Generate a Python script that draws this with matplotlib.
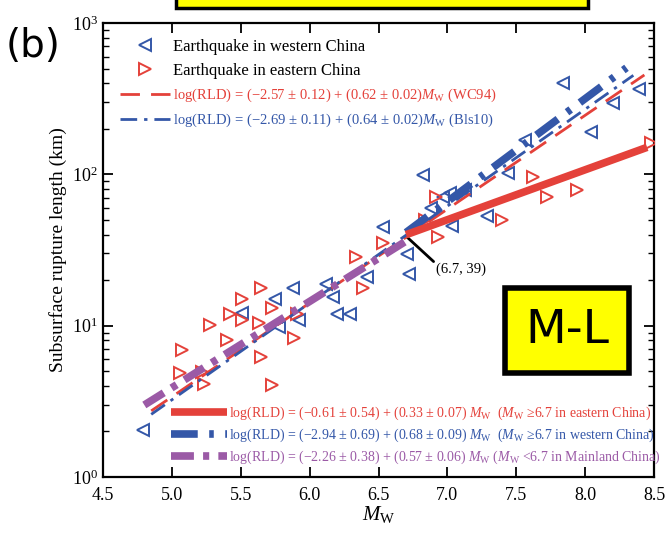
import matplotlib
matplotlib.use("Agg")
import matplotlib.pyplot as plt
from matplotlib.patches import Rectangle
import numpy as np

plt.rcParams["font.family"] = "Liberation Serif"
plt.rcParams["mathtext.fontset"] = "custom"
plt.rcParams["mathtext.rm"] = "Liberation Serif"
plt.rcParams["mathtext.it"] = "Liberation Serif:italic"

RED = "#e4413a"
BLUE = "#3457a8"
PURPLE = "#9b5aa6"

# western China events (Mw, rupture length km)
west_mw = [4.79, 5.51, 5.75, 5.88, 5.78, 5.92, 6.12, 6.17, 6.20, 6.29, 6.42, 6.53,
           6.71, 6.72, 6.82, 6.88, 6.97, 7.02, 7.03, 7.13, 7.29, 7.44, 7.56, 7.84,
           8.04, 8.20, 8.39]
west_len = [2.05, 12.1, 15.0, 17.8, 9.8, 10.9, 18.9, 15.5, 11.9, 11.9, 21.0, 44.9,
            29.8, 22.0, 99, 60, 71, 75, 45.6, 79, 53, 102, 169, 402,
            191, 296, 367]

# eastern China events
east_mw = [5.07, 5.06, 5.23, 5.22, 5.28, 5.40, 5.42, 5.51, 5.51, 5.65, 5.65, 5.73,
           5.63, 5.73, 5.89, 5.91, 6.34, 6.39, 6.53, 6.92, 6.84, 6.93, 7.40, 7.62,
           7.72, 7.94, 8.48]
east_len = [6.9, 4.9, 4.1, 4.95, 10.1, 8.0, 11.9, 15.0, 10.9, 17.8, 6.2, 13.1,
            10.4, 4.06, 8.3, 11.9, 28.5, 17.8, 35.2, 71, 50, 38.6, 50, 96,
            71, 79, 161]

# regressions: intercept, slope, Mw range
wc94 = (-2.57, 0.62, 4.85, 8.43)
bls10 = (-2.69, 0.64, 4.85, 8.35)
east_fit = (-0.61, 0.33, 6.7, 8.45)
west_fit = (-2.94, 0.68, 6.7, 8.3)
main_fit = (-2.26, 0.57, 4.8, 6.7)


def fit_line(p):
    m = np.linspace(p[2], p[3], 50)
    return m, 10 ** (p[0] + p[1] * m)


fig = plt.figure(figsize=(6.71, 5.37), dpi=100)
ax = fig.add_axes([0.1535, 0.1117, 0.8212, 0.8455])

mw_lab = r"$M_\mathrm{W}$"

ax.plot(west_mw, west_len, "<", ms=9, mfc="none", mec=BLUE, mew=1.4,
        label="Earthquake in western China", zorder=3)
ax.plot(east_mw, east_len, ">", ms=9, mfc="none", mec=RED, mew=1.4,
        label="Earthquake in eastern China", zorder=3)

m, l = fit_line(wc94)
ax.plot(m, l, color=RED, lw=2, dashes=(7, 4),
        label="log(RLD) = (\u22122.57 \u00b1 0.12) + (0.62 \u00b1 0.02)" + mw_lab + " (WC94)", zorder=4)
m, l = fit_line(bls10)
ax.plot(m, l, color=BLUE, lw=2, dashes=(6, 2.5, 1.2, 2.5),
        label="log(RLD) = (\u22122.69 \u00b1 0.11) + (0.64 \u00b1 0.02)" + mw_lab + " (Bls10)", zorder=4)

m, l = fit_line(main_fit)
h3, = ax.plot(m, l, color=PURPLE, lw=5.5, dashes=(3, 1.2, 0.8, 1.2), zorder=5)
m, l = fit_line(west_fit)
h2, = ax.plot(m, l, color=BLUE, lw=5.5, dashes=(3.5, 1.5, 0.6, 1.5), zorder=5)
m, l = fit_line(east_fit)
h1, = ax.plot(m, l, color=RED, lw=5.5, solid_capstyle="butt", zorder=6)

ax.annotate("(6.7, 39)", xy=(6.7, 39), xytext=(6.92, 23.5), fontsize=10.5,
            ha="left", va="center",
            arrowprops=dict(arrowstyle="-", color="black", lw=2, shrinkA=0, shrinkB=0,
                            relpos=(0.0, 0.9)))

ax.set_yscale("log")
ax.set_xlim(4.5, 8.5)
ax.set_ylim(1, 1000)
ax.set_xticks([4.5, 5.0, 5.5, 6.0, 6.5, 7.0, 7.5, 8.0, 8.5])
ax.set_xticklabels(["4.5", "5.0", "5.5", "6.0", "6.5", "7.0", "7.5", "8.0", "8.5"])
ax.tick_params(which="both", direction="in", top=True, right=True, labelsize=13)
ax.tick_params(axis="x", pad=7)
ax.tick_params(which="major", length=7, width=1.3)
ax.tick_params(which="minor", length=4, width=1)
for s in ax.spines.values():
    s.set_linewidth(1.6)

ax.set_xlabel(mw_lab, fontsize=15, labelpad=0)
ax.set_ylabel("Subsurface rupture length (km)", fontsize=14, labelpad=4)

leg1 = ax.legend(loc="upper left", bbox_to_anchor=(0.015, 0.985), frameon=False,
                 fontsize=10.5, handlelength=3.4, handletextpad=0.2, labelspacing=0.55,
                 borderaxespad=0.2)
for t, c in zip(leg1.get_texts(), ["black", "black", RED, BLUE]):
    t.set_color(c)
leg1.get_texts()[0].set_fontsize(12)
leg1.get_texts()[1].set_fontsize(12)
ax.add_artist(leg1)

labels2 = [
    "log(RLD) = (\u22120.61 \u00b1 0.54) + (0.33 \u00b1 0.07) " + mw_lab + "  (" + mw_lab + " \u22656.7 in eastern China)",
    "log(RLD) = (\u22122.94 \u00b1 0.69) + (0.68 \u00b1 0.09) " + mw_lab + "  (" + mw_lab + " \u22656.7 in western China)",
    "log(RLD) = (\u22122.26 \u00b1 0.38) + (0.57 \u00b1 0.06) " + mw_lab + " (" + mw_lab + " <6.7 in Mainland China)",
]
leg2 = ax.legend([h1, h2, h3], labels2, loc="lower right", bbox_to_anchor=(1.025, 0.008),
                 frameon=False, fontsize=10, handlelength=4.0, handletextpad=0.15,
                 labelspacing=0.35, borderaxespad=0.1)
for t, c in zip(leg2.get_texts(), [RED, BLUE, PURPLE]):
    t.set_color(c)

# M-L box
ax.text(0.842, 0.322, "M-L", transform=ax.transAxes, ha="center", va="center",
        fontsize=34, family="DejaVu Sans",
        bbox=dict(boxstyle="square,pad=0.42", fc="#ffff00", ec="black", lw=4), zorder=7)

# panel label and top cut box
fig.text(0.008, 0.915, "(b)", fontsize=28, family="DejaVu Sans", ha="left", va="center")
fig.patches.append(Rectangle((0.262, 0.985), 0.614, 0.05, transform=fig.transFigure,
                             fc="#ffff00", ec="black", lw=2.5))

fig.savefig("out.png", dpi=100)
plt.close(fig)
